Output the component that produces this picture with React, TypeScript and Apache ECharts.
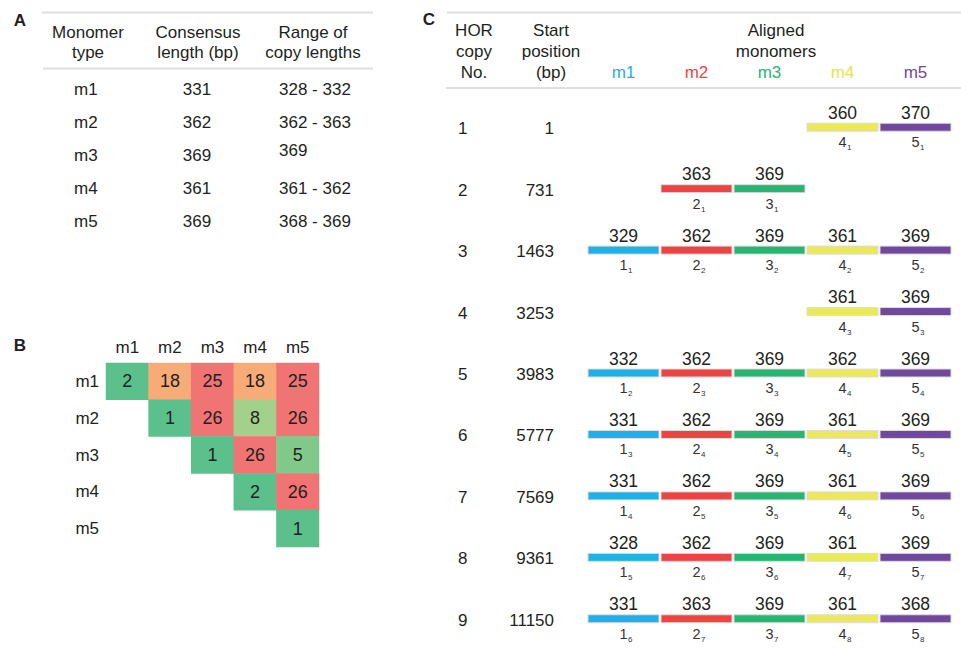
import React, { useEffect, useRef } from "react";
import * as echarts from "echarts";

// ---------- data ----------
const MONOMERS = ["m1", "m2", "m3", "m4", "m5"];
const CONSENSUS = [331, 362, 369, 361, 369];
const COPY_RANGE = ["328 - 332", "362 - 363", "369", "361 - 362", "368 - 369"];

// pairwise divergence (upper triangle)
const DIST: (number | null)[][] = [
  [2, 18, 25, 18, 25],
  [null, 1, 26, 8, 26],
  [null, null, 1, 26, 5],
  [null, null, null, 2, 26],
  [null, null, null, null, 1],
];

const HOR_NO = ["1", "2", "3", "4", "5", "6", "7", "8", "9"];
const START_POS = [1, 731, 1463, 3253, 3983, 5777, 7569, 9361, 11150];
const ALIGNED: (number | null)[][] = [
  [null, null, null, 360, 370],
  [null, 363, 369, null, null],
  [329, 362, 369, 361, 369],
  [null, null, null, 361, 369],
  [332, 362, 369, 362, 369],
  [331, 362, 369, 361, 369],
  [331, 362, 369, 361, 369],
  [328, 362, 369, 361, 369],
  [331, 363, 369, 361, 368],
];
const MONO_COLORS = ["#1eb0e6", "#ee4343", "#28b471", "#ebe85a", "#70489e"];
const LABEL_COLORS = ["#1eb0e6", "#ee4343", "#28b471", "#e3e35a", "#70489e"];

const FONT = '"Liberation Sans", Arial, Helvetica, sans-serif';
const TXT = "#231f20";

function txt(text: string, x: number, y: number, extra: any = {}) {
  return {
    type: "text",
    x,
    y,
    silent: true,
    style: {
      text,
      fontFamily: FONT,
      fontSize: 17,
      fill: TXT,
      align: "center",
      textAlign: "center",
      verticalAlign: "middle",
      textVerticalAlign: "middle",
      ...extra,
    },
  };
}

function hline(x1: number, x2: number, y: number) {
  return {
    type: "line",
    silent: true,
    shape: { x1, y1: y, x2, y2: y },
    style: { stroke: "#dedede", lineWidth: 2 },
  };
}

export default function App() {
  const ref = useRef<HTMLDivElement>(null);

  useEffect(() => {
    if (!ref.current) return;
    const chart = echarts.init(ref.current, undefined, { renderer: "svg" });

    // heatmap data
    const heat: any[] = [];
    DIST.forEach((row, r) =>
      row.forEach((v, c) => {
        if (v !== null) heat.push([c, r, v]);
      })
    );

    // aligned monomer segments with per-type copy index
    const counts = [0, 0, 0, 0, 0];
    const segs: any[] = [];
    ALIGNED.forEach((row, r) =>
      row.forEach((len, m) => {
        if (len !== null) {
          counts[m] += 1;
          segs.push([m, r, len, counts[m]]);
        }
      })
    );

    const rich: any = {};
    LABEL_COLORS.forEach((c, i) => {
      rich["c" + i] = { color: c, fontSize: 17, fontFamily: FONT };
    });

    const option: any = {
      animation: false,
      backgroundColor: "#ffffff",
      textStyle: { fontFamily: FONT },
      grid: [
        { left: 44, top: 73, width: 330, height: 165 },
        { left: 106, top: 363, width: 213, height: 184 },
        { left: 587, top: 98, width: 365, height: 557 },
      ],
      xAxis: [
        { gridIndex: 0, type: "value", min: 0, max: 1, show: false },
        {
          gridIndex: 1,
          type: "category",
          data: MONOMERS,
          position: "top",
          axisLine: { show: false },
          axisTick: { show: false },
          splitLine: { show: false },
          axisLabel: { margin: 7, fontSize: 17, color: TXT, fontFamily: FONT },
        },
        {
          gridIndex: 2,
          type: "category",
          data: MONOMERS,
          position: "top",
          axisLine: { show: false },
          axisTick: { show: false },
          splitLine: { show: false },
          axisLabel: {
            margin: 17,
            formatter: (v: string, i: number) => `{c${i}|${v}}`,
            rich,
          },
        },
      ],
      yAxis: [
        { gridIndex: 0, type: "category", data: MONOMERS, inverse: true, show: false },
        {
          gridIndex: 1,
          type: "category",
          data: MONOMERS,
          inverse: true,
          axisLine: { show: false },
          axisTick: { show: false },
          splitLine: { show: false },
          axisLabel: { margin: 7, fontSize: 17, color: TXT, fontFamily: FONT },
        },
        {
          gridIndex: 2,
          type: "category",
          data: HOR_NO,
          inverse: true,
          axisLine: { show: false },
          axisTick: { show: false },
          splitLine: { show: false },
          axisLabel: {
            margin: 33,
            formatter: (v: string, i: number) => `{a|${v}}{b|${START_POS[i]}}`,
            rich: {
              a: { width: 40, align: "left", fontSize: 17, color: TXT, fontFamily: FONT },
              b: { width: 56, align: "right", fontSize: 17, color: TXT, fontFamily: FONT },
            },
          },
        },
      ],
      visualMap: {
        type: "piecewise",
        show: false,
        seriesIndex: 1,
        dimension: 2,
        pieces: [
          { gte: 0, lte: 2.5, color: "#5cc08d" },
          { gt: 2.5, lte: 6.5, color: "#80c98b" },
          { gt: 6.5, lte: 12.5, color: "#a3d18c" },
          { gt: 12.5, lte: 22.5, color: "#f7ab77" },
          { gt: 22.5, lte: 100, color: "#f07474" },
        ],
      },
      series: [
        {
          type: "custom",
          xAxisIndex: 0,
          yAxisIndex: 0,
          data: MONOMERS.map((_, i) => [0, i]),
          renderItem: (params: any, api: any) => {
            const i = params.dataIndex;
            const y = api.coord([0, i])[1];
            const single = COPY_RANGE[i].indexOf("-") < 0;
            return {
              type: "group",
              children: [
                txt(MONOMERS[i], 74, y, { align: "left", textAlign: "left" }),
                txt(String(CONSENSUS[i]), 197, y),
                txt(COPY_RANGE[i], 279, single ? y - 5 : y, { align: "left", textAlign: "left" }),
              ],
            };
          },
        },
        {
          type: "heatmap",
          xAxisIndex: 1,
          yAxisIndex: 1,
          data: heat,
          label: { show: true, fontSize: 18, color: TXT, fontFamily: FONT },
          itemStyle: { borderWidth: 0 },
        },
        {
          type: "custom",
          xAxisIndex: 2,
          yAxisIndex: 2,
          data: segs,
          renderItem: (params: any, api: any) => {
            const m = api.value(0);
            const r = api.value(1);
            const len = api.value(2);
            const k = api.value(3);
            const c = api.coord([m, r]);
            const w = api.size([1, 1])[0];
            const cx = c[0];
            const cy = c[1] - 1.5;
            return {
              type: "group",
              children: [
                {
                  type: "rect",
                  shape: { x: cx - w / 2 + 1, y: cy - 4, width: w - 2, height: 8 },
                  style: { fill: MONO_COLORS[m], stroke: "#dcdcdc", lineWidth: 1 },
                },
                txt(String(len), cx, cy - 14.5, { fontSize: 17.5 }),
                txt(String(m + 1), cx, cy + 15, {
                  fontSize: 14.5,
                  fill: "#333",
                }),
                txt(String(k), cx + 4.5, cy + 20.5, {
                  fontSize: 8,
                  fill: "#333",
                  align: "left",
                  textAlign: "left",
                }),
              ],
            };
          },
        },
      ],
      graphic: [
        hline(42, 373, 12.5),
        hline(43, 373, 68.5),
        hline(447, 961, 12.5),
        hline(446, 961, 88),
        txt("A", 20, 20, { fontWeight: "bold", fontSize: 17 }),
        txt("B", 20, 345, { fontWeight: "bold", fontSize: 17 }),
        txt("C", 429, 19, { fontWeight: "bold", fontSize: 17 }),
        txt("Monomer\ntype", 88, 42, { lineHeight: 20 }),
        txt("Consensus\nlength (bp)", 198, 42, { lineHeight: 20 }),
        txt("Range of\ncopy lengths", 313, 42, { lineHeight: 20 }),
        txt("HOR\ncopy\nNo.", 474, 51, { lineHeight: 21 }),
        txt("Start\nposition\n(bp)", 551, 51, { lineHeight: 21 }),
        txt("Aligned\nmonomers", 776, 40.5, { lineHeight: 21 }),
      ],
    };

    chart.setOption(option);
    return () => chart.dispose();
  }, []);

  return (
    <div
      ref={ref}
      style={{ position: "fixed", left: 0, top: 0, width: 961, height: 651, background: "#fff" }}
    />
  );
}
